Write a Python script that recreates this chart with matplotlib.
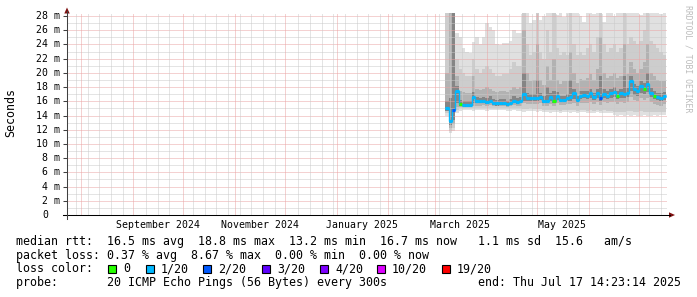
import numpy as np
import pandas as pd
import matplotlib
matplotlib.use("Agg")
import matplotlib.pyplot as plt
import matplotlib.dates as mdates
from matplotlib.patches import Rectangle, Polygon
from matplotlib.lines import Line2D

W, H = 697, 297
MONO = "DejaVu Sans Mono"

# RRD rows: one every 2 days, first row starts 2025-03-07
row_start = "2025-03-07"
row_step = "2D"

median_ms = [15.0, 13.2, 14.8, 17.5, 15.6, 15.5, 15.5, 15.5, 16.6, 16.0,
             16.0, 16.1, 15.9, 16.1, 15.8, 15.7, 15.8, 15.8, 15.6, 15.8,
             16.1, 15.9, 16.0, 17.0, 16.5, 16.5, 16.5, 16.5, 16.6, 16.1,
             16.1, 16.6, 16.0, 16.7, 16.2, 16.2, 16.4, 16.6, 17.1, 16.2,
             16.8, 16.9, 16.8, 17.1, 16.6, 17.1, 16.4, 17.0, 16.8, 17.1,
             17.3, 16.8, 17.1, 17.0, 17.2, 18.8, 17.7, 17.5, 18.1, 17.8,
             18.5, 17.2, 16.8, 16.6, 16.5, 16.7]

lost_pings = [1, 1, 2, 1, 0, 1, 1, 1, 1, 1,
              1, 1, 1, 1, 1, 1, 1, 1, 1, 1,
              1, 1, 1, 1, 1, 1, 1, 1, 1, 1,
              1, 1, 0, 1, 1, 1, 1, 1, 1, 1,
              1, 1, 1, 1, 1, 1, 2, 1, 1, 1,
              1, 0, 1, 1, 1, 1, 1, 1, 1, 0,
              1, 1, 0, 1, 1, 1]

# smoke: outermost band (min .. max ping)
smoke_min = [14.0, 11.5, 11.8, 14.4, 14.7, 14.8, 14.8, 14.8, 14.7, 14.8,
             14.8, 14.8, 14.7, 14.8, 14.8, 14.8, 14.8, 14.8, 14.7, 14.7,
             14.8, 14.7, 14.7, 14.5, 14.6, 14.7, 14.6, 14.5, 14.6, 14.5,
             14.5, 14.4, 14.5, 14.5, 14.4, 14.5, 14.5, 14.4, 14.5, 14.4,
             14.5, 14.5, 14.3, 14.4, 14.4, 14.5, 14.3, 14.4, 14.4, 14.3,
             14.1, 14.0, 14.1, 14.0, 14.1, 14.0, 14.1, 14.0, 14.0, 14.1,
             14.0, 14.0, 14.1, 14.0, 14.1, 14.1]
smoke_max = [30, 30, 30, 25.6, 25.0, 23.5, 23.0, 22.8, 24.3, 25.0,
             24.0, 25.0, 27.0, 26.5, 26.0, 24.0, 23.9, 24.2, 24.2, 24.5,
             26.0, 25.6, 25.6, 30, 30, 27.0, 27.4, 30, 27.5, 28.0,
             30, 30, 30, 28.2, 30, 27.8, 30, 30, 30, 30,
             28.0, 27.2, 30, 30, 28.3, 30, 27.3, 27.2, 30, 30,
             28.0, 30, 30, 27.5, 30, 30, 30, 30, 28.2, 30,
             30, 30, 30, 30, 28.3, 30]

# second band
smoke_lo2 = [14.3, 11.8, 12.2, 14.8, 15.0, 15.0, 15.1, 15.1, 15.0, 15.1,
             15.1, 15.1, 15.0, 15.1, 15.0, 15.0, 15.0, 15.0, 15.0, 15.0,
             15.1, 15.0, 15.0, 14.9, 14.9, 15.0, 14.9, 14.9, 14.9, 14.8,
             14.8, 14.8, 14.8, 14.8, 14.7, 14.8, 14.8, 14.8, 14.8, 14.7,
             14.8, 14.8, 14.7, 14.8, 14.7, 14.8, 14.7, 14.8, 14.7, 14.7,
             14.5, 14.5, 14.5, 14.5, 14.6, 14.6, 14.5, 14.5, 14.6, 14.5,
             14.5, 14.5, 14.5, 14.5, 14.5, 14.5]
smoke_hi2 = [30, 30, 30, 22.0, 20.5, 20.0, 19.5, 19.5, 22.0, 20.5,
             20.0, 20.5, 21.0, 20.5, 20.0, 19.5, 19.5, 19.8, 19.8, 20.5,
             21.5, 21.0, 21.0, 30, 24.0, 22.5, 23.0, 30, 23.0, 22.0,
             26.0, 23.0, 30, 23.5, 22.5, 23.0, 22.5, 30, 24.0, 22.5,
             23.0, 22.5, 23.5, 24.0, 23.0, 25.0, 30, 24.0, 23.0, 23.5,
             24.0, 23.0, 23.5, 30, 24.0, 25.0, 24.5, 24.0, 24.5, 26.0,
             30, 24.5, 24.0, 23.5, 23.0, 22.5]

# third band
smoke_lo3 = [14.6, 12.3, 12.8, 15.2, 15.2, 15.2, 15.2, 15.2, 15.4, 15.4,
             15.4, 15.5, 15.4, 15.5, 15.3, 15.3, 15.3, 15.3, 15.2, 15.3,
             15.5, 15.4, 15.4, 15.7, 15.6, 15.6, 15.6, 15.6, 15.7, 15.4,
             15.4, 15.6, 15.4, 15.7, 15.5, 15.5, 15.6, 15.6, 15.8, 15.4,
             15.8, 15.8, 15.8, 15.9, 15.6, 15.9, 15.5, 15.9, 15.8, 15.9,
             15.9, 15.6, 15.9, 15.8, 15.9, 16.6, 16.2, 16.1, 16.4, 16.2,
             16.5, 15.9, 15.6, 15.5, 15.4, 15.6]
smoke_hi3 = [20.0, 30, 30, 19.5, 17.5, 17.3, 17.2, 17.2, 19.5, 17.8,
             17.6, 17.8, 18.0, 17.8, 17.5, 17.3, 17.4, 17.5, 17.3, 17.6,
             18.0, 17.8, 18.0, 26.0, 20.0, 18.8, 19.0, 24.0, 19.0, 18.3,
             21.0, 19.0, 22.0, 19.0, 18.5, 18.8, 18.8, 23.0, 20.0, 18.6,
             19.2, 19.0, 19.3, 19.8, 19.0, 20.5, 25.0, 20.0, 19.3, 19.6,
             20.0, 19.3, 19.6, 24.0, 19.8, 21.5, 20.5, 20.0, 20.5, 21.5,
             24.0, 20.0, 19.5, 19.0, 18.8, 18.8]

# innermost (darkest) band around the median
smoke_lo4 = [14.7, 12.6, 13.4, 15.8, 15.3, 15.2, 15.2, 15.2, 15.8, 15.7,
             15.7, 15.8, 15.6, 15.8, 15.5, 15.4, 15.5, 15.5, 15.3, 15.5,
             15.8, 15.6, 15.7, 16.0, 16.1, 16.1, 16.1, 16.0, 16.2, 15.8,
             15.8, 16.1, 15.7, 16.2, 15.9, 15.9, 16.0, 16.1, 16.3, 15.9,
             16.3, 16.4, 16.3, 16.5, 16.2, 16.5, 16.0, 16.5, 16.3, 16.5,
             16.6, 16.3, 16.5, 16.4, 16.6, 17.4, 16.9, 16.8, 17.2, 17.0,
             17.3, 16.6, 16.3, 16.2, 16.1, 16.2]
smoke_hi4 = [16.0, 16.5, 30, 18.2, 16.2, 16.0, 16.0, 16.0, 17.3, 16.6,
             16.5, 16.6, 16.5, 16.7, 16.3, 16.2, 16.3, 16.3, 16.1, 16.3,
             16.7, 16.4, 16.6, 20.0, 17.1, 17.0, 17.0, 19.0, 17.2, 16.7,
             18.0, 17.2, 17.5, 17.3, 16.8, 16.8, 17.0, 19.0, 17.8, 16.8,
             17.4, 17.5, 17.4, 17.8, 17.2, 17.8, 19.5, 17.7, 17.4, 17.8,
             18.0, 17.4, 17.8, 19.5, 17.9, 19.6, 18.4, 18.2, 18.8, 18.6,
             20.0, 17.9, 17.4, 17.2, 17.1, 17.3]

loss_labels = ["0", "1/20", "2/20", "3/20", "4/20", "10/20", "19/20"]
loss_colors = ["#26ff00", "#00b8ff", "#0059ff", "#5e00ff", "#7e00ff", "#dd00ff", "#ff0000"]

y_ticks = list(range(0, 29, 2))
month_labels = ["September 2024", "November 2024", "January 2025", "March 2025", "May 2025"]
month_label_dates = ["2024-09-16", "2024-11-16", "2025-01-16", "2025-03-16", "2025-05-16"]

rtt_line = "median rtt:  16.5 ms avg  18.8 ms max  13.2 ms min  16.7 ms now   1.1 ms sd  15.6   am/s"
loss_line = "packet loss: 0.37 % avg  8.67 % max  0.00 % min  0.00 % now"
probe_line = "probe:       20 ICMP Echo Pings (56 Bytes) every 300s             end: Thu Jul 17 14:23:14 2025"

end_time = pd.Timestamp("2025-07-17 14:23:14")
start_time = end_time - pd.Timedelta(days=358.9)


def fx(x):
    return x / W


def fy(y):
    return 1 - y / H


fig = plt.figure(figsize=(W / 100, H / 100), dpi=100, facecolor="white")
ax = fig.add_axes([fx(67), fy(215), 600 / W, (215 - 13.2) / H])
ax.set_facecolor("white")

edges = mdates.date2num(pd.date_range(row_start, periods=len(median_ms) + 1, freq=row_step))

# smoke, outer to inner
bands = [(smoke_min, smoke_max, "#e0e0e0"),
         (smoke_lo2, smoke_hi2, "#cdcdcd"),
         (smoke_lo3, smoke_hi3, "#b2b2b2"),
         (smoke_lo4, smoke_hi4, "#858585")]
for lo, hi, col in bands:
    ax.stairs(hi, edges, baseline=lo, fill=True, color=col, lw=0, zorder=1)

# grid
major_c, minor_c = "#eba4a4", "#cacaca"
dot = (0, (1, 1))
for v in range(1, 29):
    ax.axhline(v, color=major_c if v % 2 == 0 else minor_c, ls=dot, lw=0.72, zorder=3)
month_starts = pd.date_range("2024-08-01", end_time, freq="MS")
for d in pd.date_range("2024-07-29", end_time, freq="7D"):
    if min(abs((d - m).days) for m in month_starts) < 2:
        continue
    ax.axvline(mdates.date2num(d), color=minor_c, ls=dot, lw=0.72, zorder=3)
for d in month_starts:
    ax.axvline(mdates.date2num(d), color=major_c, ls=dot, lw=0.72, zorder=3)

# median coloured by loss
ax.stairs(median_ms, edges, baseline=None, color=loss_colors[1], lw=1.0, zorder=4)
ax.hlines(median_ms, edges[:-1], edges[1:], colors=[loss_colors[n] for n in lost_pings],
          lw=2.3, zorder=5, capstyle="butt")

ax.set_xlim(mdates.date2num(start_time), mdates.date2num(end_time))
ax.set_ylim(0, 28.4)
for s in ax.spines.values():
    s.set_visible(False)

ax.set_yticks(y_ticks)
ax.tick_params(axis="y", length=4 * 0.72, width=0.75, color="#404040", direction="out", labelleft=False)
ax.set_xticks(mdates.date2num(pd.to_datetime(month_label_dates)))
ax.set_xticklabels(month_labels, family=MONO, fontsize=7.13)
ax.tick_params(axis="x", length=0, pad=3.6)

for v in y_ticks:
    lbl = f"{v} m" if v else "0"
    off = -7 if v else -19
    ax.annotate(lbl, xy=(0, v), xycoords=("axes fraction", "data"), xytext=(off * 0.72, 0),
                textcoords="offset points", ha="right", va="center", family=MONO, fontsize=7.13)

# axes with arrows
fig.add_artist(Line2D([fx(63), fx(670)], [fy(215), fy(215)], color="black", lw=0.75))
fig.add_artist(Line2D([fx(67), fx(67)], [fy(219), fy(11)], color="#404040", lw=0.75))
arrow_c = "#7f1010"
fig.add_artist(Polygon([(fx(669), fy(212.3)), (fx(675), fy(215)), (fx(669), fy(217.7))], closed=True,
                       color=arrow_c, lw=0))
fig.add_artist(Polygon([(fx(64.3), fy(13.5)), (fx(67), fy(7.5)), (fx(69.7), fy(13.5))], closed=True,
                       color=arrow_c, lw=0))

fig.text(fx(11), fy(113), "Seconds", rotation=90, ha="center", va="center", family=MONO, fontsize=8.4)
fig.text(fx(688), fy(5), "RRDTOOL / TOBI OETIKER", rotation=-90, ha="center", va="top",
         family=MONO, fontsize=5.9, color="#bcbcbc")

# legend block
fig.text(fx(16), fy(241.5), rtt_line, ha="left", va="center", family=MONO, fontsize=8.4)
fig.text(fx(16), fy(255.3), loss_line, ha="left", va="center", family=MONO, fontsize=8.4)
fig.text(fx(16), fy(269), "loss color:", ha="left", va="center", family=MONO, fontsize=8.4)
box_x = [108, 146, 203, 262, 320, 377, 442]
for bx, lbl, col in zip(box_x, loss_labels, loss_colors):
    fig.add_artist(Rectangle((fx(bx), fy(273.2)), 8 / W, 8.4 / H, facecolor=col, edgecolor="black", lw=0.8))
    fig.text(fx(bx + 15), fy(269), lbl, ha="left", va="center", family=MONO, fontsize=8.4)
fig.text(fx(16), fy(282.7), probe_line, ha="left", va="center", family=MONO, fontsize=8.4)

fig.savefig("out.png", dpi=100, facecolor="white")
